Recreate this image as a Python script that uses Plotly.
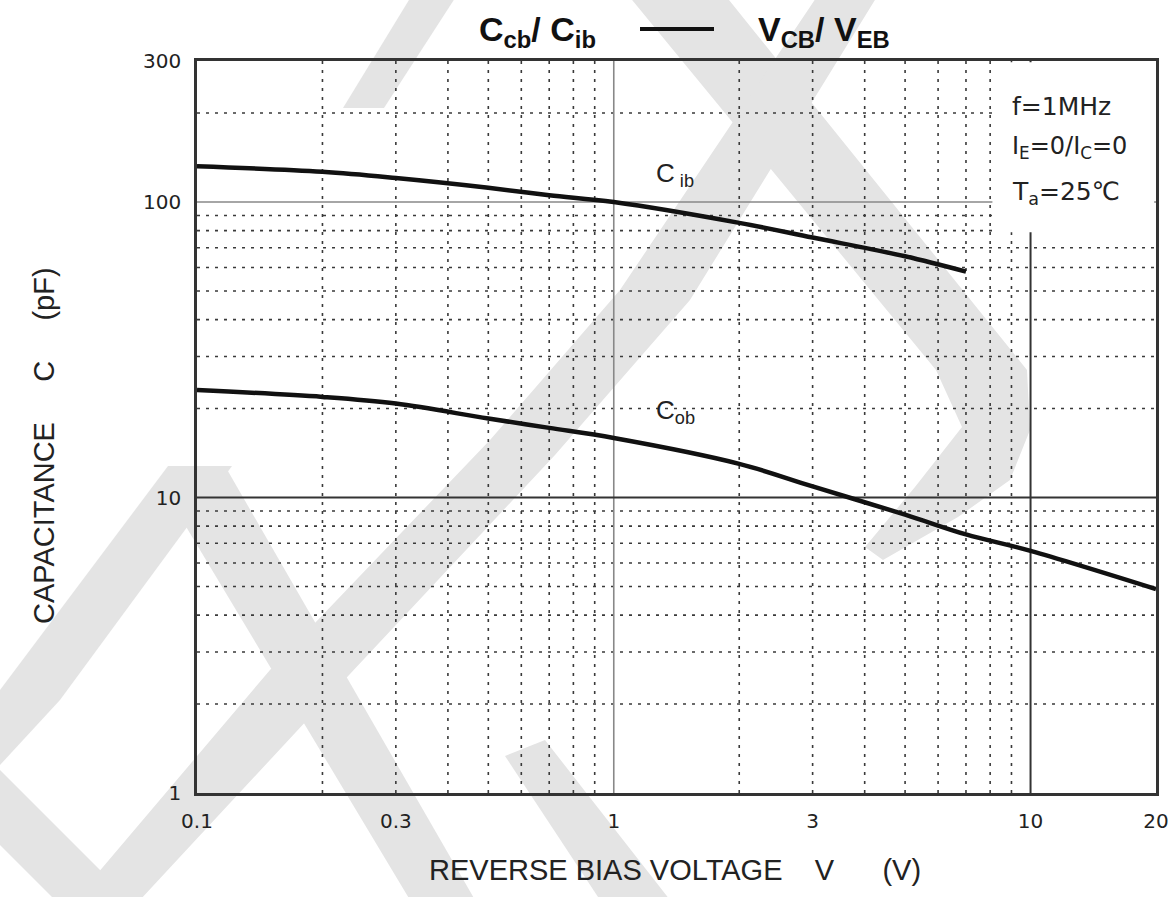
import plotly.graph_objects as go

# ---------------- data ----------------
v_cib = [0.1, 0.2, 0.3, 0.5, 0.7, 1, 2, 3, 5, 7]
c_ib = [132, 126.5, 120.5, 111.7, 105.4, 100, 85, 75.8, 65.5, 58.1]

v_cob = [0.1, 0.2, 0.3, 0.5, 0.7, 1, 2, 3, 5, 7, 10, 20]
c_ob = [23.1, 21.9, 20.8, 18.5, 17.2, 15.9, 13.0, 10.9, 8.75, 7.5, 6.6, 4.9]

x_ticks = [0.1, 0.3, 1, 3, 10, 20]
x_tick_text = ["0.1", "0.3", "1", "3", "10", "20"]
y_ticks = [1, 10, 100, 300]
y_tick_text = ["1", "10", "100", "300"]

x_minor_grid = [0.2, 0.3, 0.4, 0.5, 0.6, 0.7, 0.8, 0.9, 2, 3, 4, 5, 6, 7, 8, 9]
y_minor_grid = [2, 3, 4, 5, 6, 7, 8, 9, 20, 30, 40, 50, 60, 70, 80, 90, 200]
x_major_grid = [1, 10]
y_major_grid = [10, 100]

X_MIN, X_MAX = 0.1, 20
Y_MIN, Y_MAX = 1, 300

# ---------------- geometry ----------------
W, H = 1174, 897
ML, MR, MT, MB = 197, 18, 61, 104
PW, PH = W - ML - MR, H - MT - MB


def px(x):
    return (x - ML) / PW


def py(y):
    return (H - MB - y) / PH


fig = go.Figure()

fig.add_trace(go.Scatter(x=v_cib, y=c_ib, mode="lines", line=dict(color="#111", width=4.5, shape="spline"),
                         showlegend=False, hoverinfo="skip"))
fig.add_trace(go.Scatter(x=v_cob, y=c_ob, mode="lines", line=dict(color="#111", width=4.5, shape="spline"),
                         showlegend=False, hoverinfo="skip"))

shapes = []

# ---- watermark (paper coords, drawn under everything) ----
WM = "#e4e4e4"


def poly(points):
    d = "M " + " L ".join(f"{px(a):.5f},{py(b):.5f}" for a, b in points) + " Z"
    return dict(type="path", xref="paper", yref="paper", path=d, fillcolor=WM, line=dict(width=0), layer="below")


wm_polys = [
    # small slash top-left
    [(343, 108), (384, 108), (457, -5), (412, -5)],
    # big back-slash with curved lower end
    [(628, -5), (725, -5), (1027, 370), (1030, 430), (1010, 480), (958, 517), (883, 560), (865, 547),
     (915, 487), (962, 427), (936, 370)],
    # long slash from top centre to bottom left
    [(818, -5), (878, -5), (690, 300), (555, 455), (335, 690), (140, 900), (75, 900), (270, 670), (490, 440),
     (620, 290)],
    # left leg of lower-left chevron
    [(168, 466), (232, 466), (60, 700), (0, 765), (0, 690)],
    # right leg of lower-left chevron
    [(170, 500), (225, 466), (475, 900), (410, 900)],
    # small back-slash at bottom left
    [(0, 770), (0, 845), (55, 900), (130, 900)],
    # back-slash near x-axis title
    [(505, 756), (545, 740), (670, 900), (600, 900)],
]
for p in wm_polys:
    shapes.append(poly(p))

# ---- grid ----
DOT = dict(color="#3a3a3a", width=1.6, dash="3px,6px")
for xv in x_minor_grid:
    shapes.append(dict(type="line", xref="x", yref="y", x0=xv, x1=xv, y0=Y_MIN, y1=Y_MAX, line=DOT, layer="below"))
for yv in y_minor_grid:
    shapes.append(dict(type="line", xref="x", yref="y", x0=X_MIN, x1=X_MAX, y0=yv, y1=yv, line=DOT, layer="below"))
major_styles = {1: ("#888", 1.6), 10: ("#333", 2)}
for xv in x_major_grid:
    c, w = major_styles[xv]
    shapes.append(dict(type="line", xref="x", yref="y", x0=xv, x1=xv, y0=Y_MIN, y1=Y_MAX,
                       line=dict(color=c, width=w), layer="below"))
ymaj_styles = {10: ("#333", 2), 100: ("#888", 1.6)}
for yv in y_major_grid:
    c, w = ymaj_styles[yv]
    shapes.append(dict(type="line", xref="x", yref="y", x0=X_MIN, x1=X_MAX, y0=yv, y1=yv,
                       line=dict(color=c, width=w), layer="below"))

# white box behind the conditions text
shapes.append(dict(type="rect", xref="x", yref="y", x0=8.1, x1=19.8, y0=79, y1=297,
                   fillcolor="white", line=dict(width=0), layer="below"))

# title dash
shapes.append(dict(type="line", xref="paper", yref="paper", x0=px(640), x1=px(714), y0=py(29), y1=py(29),
                   line=dict(color="#111", width=4)))

FONT = "Liberation Sans, Arial, sans-serif"
WIDE = "DejaVu Sans, sans-serif"
annotations = [
    dict(xref="paper", yref="paper", x=px(477), y=py(32), text="<b>C<sub>cb</sub>/ C<sub>ib</sub></b>",
         showarrow=False, font=dict(family=FONT, size=34, color="#111"), xanchor="left", yanchor="middle"),
    dict(xref="paper", yref="paper", x=px(756), y=py(32), text="<b>V<sub>CB</sub>/ V<sub>EB</sub></b>",
         showarrow=False, font=dict(family=FONT, size=34, color="#111"), xanchor="left", yanchor="middle"),
    dict(xref="paper", yref="paper", x=px(1010), y=py(106), text="f=1MHz", showarrow=False,
         font=dict(family=WIDE, size=25, color="#222"), xanchor="left", yanchor="middle"),
    dict(xref="paper", yref="paper", x=px(1010), y=py(148), text="I<sub>E</sub>=0/I<sub>C</sub>=0", showarrow=False,
         font=dict(family=WIDE, size=24, color="#222"), xanchor="left", yanchor="middle"),
    dict(xref="paper", yref="paper", x=px(1010), y=py(193), text="T<sub>a</sub>=25℃", showarrow=False,
         font=dict(family=WIDE, size=25, color="#222"), xanchor="left", yanchor="middle"),
    dict(xref="paper", yref="paper", x=px(654), y=py(174), text="C<sub> ib</sub>", showarrow=False,
         font=dict(family=FONT, size=26, color="#222"), xanchor="left", yanchor="middle"),
    dict(xref="paper", yref="paper", x=px(654), y=py(411), text="C<sub>ob</sub>", showarrow=False,
         font=dict(family=FONT, size=26, color="#222"), xanchor="left", yanchor="middle"),
    # axis titles
    dict(xref="paper", yref="paper", x=px(675), y=py(870),
         text="REVERSE BIAS VOLTAGE\u00a0\u00a0\u00a0\u00a0V\u00a0\u00a0\u00a0\u00a0\u00a0\u00a0(V)",
         showarrow=False, font=dict(family=FONT, size=29, color="#222"), xanchor="center", yanchor="middle"),
    dict(xref="paper", yref="paper", x=px(44), y=py(446), textangle=-90,
         text="CAPACITANCE\u00a0\u00a0\u00a0\u00a0\u00a0C\u00a0\u00a0\u00a0\u00a0\u00a0(pF)",
         showarrow=False, font=dict(family=FONT, size=29, color="#222"), xanchor="center", yanchor="middle"),
]

fig.update_layout(
    width=W, height=H,
    margin=dict(l=ML, r=MR, t=MT, b=MB, autoexpand=False),
    paper_bgcolor="white", plot_bgcolor="rgba(0,0,0,0)",
    shapes=shapes, annotations=annotations,
    font=dict(family=WIDE, color="#222"),
)
fig.update_xaxes(type="log", range=[-1, 1.30103], tickvals=x_ticks, ticktext=x_tick_text, automargin=False,
                 showgrid=False, zeroline=False, showline=True, linecolor="#333", linewidth=2.5, mirror=True,
                 ticks="", ticklabelstandoff=8, tickfont=dict(family=WIDE, size=20, color="#222"))
fig.update_yaxes(type="log", range=[0, 2.47712], tickvals=y_ticks, ticktext=y_tick_text, automargin=False,
                 showgrid=False, zeroline=False, showline=True, linecolor="#333", linewidth=2.5, mirror=True,
                 ticks="", ticklabelstandoff=9, tickfont=dict(family=WIDE, size=20, color="#222"))

fig.write_html("out.html", config={"displayModeBar": False},
               post_script="document.body.style.margin='0px';")
